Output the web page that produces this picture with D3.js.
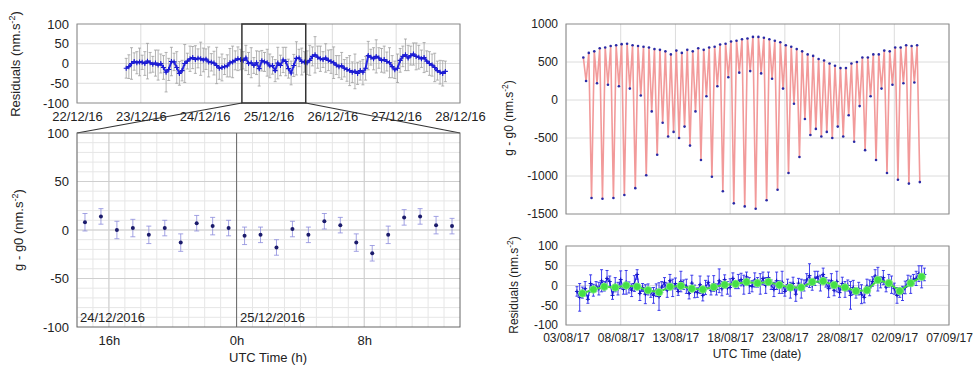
<!DOCTYPE html>
<html>
<head>
<meta charset="utf-8">
<script src="https://cdn.jsdelivr.net/npm/d3@7"></script>
<style>
  body { margin: 0; background: #fff; }
  svg { display: block; font-family: "Liberation Sans", Arial, Helvetica, sans-serif; }
</style>
</head>
<body>
<svg id="fig" width="974" height="368"></svg>
<script>
// ---- data ----
// top left: hourly residuals from 22/12/16 18:30, the zoom window is in the middle
const tlBefore = [-12, -8, 0, 5, 2, 4,
  3, 0, 6, 2, -2, 1,
  -4, 0, -10, -22, -15, 5,
  4, -10, -25, -18, 0, 6,
  12, 15, 10, 13, 12, 9,
  11, 4, 3, 1, -5, -12,
  -10, -8, -6, 2, 4, 8,
  12, 10]
// bottom left: zoom on 24/12/2016 14h -> 25/12/2016 14h (values at hh:30)
const zoomValues = [8, 14, 0, 2, -5, 2, -13, 7, 4, 2, -6, -5,
  -18, 1, -5, 9, 5, -13, -24, -5, 13, 14, 5, 4]
const zoomErr = [9, 8, 9, 9, 9, 8, 9, 8, 9, 8, 9, 8, 8, 8, 8, 8, 8, 9, 8, 9, 8, 8, 9, 8]
const tlAfter = [2, 8, 18, 22, 16, 12,
  10, 14, 8, 5, 2, -4,
  -8, -6, -12, -15, -18, -22,
  -20, -25, -18, -22, -12, 20,
  16, 12, 18, 14, 8, 10,
  5, 2, -8, -16, -12, 8,
  18, 22, 14, 20, 24, 18,
  16, 12, 15, 6, 0, -4,
  -10, -18, -22, -25, -20]
const tlErr = [25, 30, 40, 22, 28, 35, 18, 30, 45, 26, 20, 33,
  38, 24, 30, 50, 28, 36, 22, 40, 30, 26, 48, 20,
  32, 28, 35, 24, 42, 30, 26, 38, 22, 30, 46, 28,
  34, 20, 28, 36, 40, 24, 30, 26, 22, 32, 28, 38,
  20, 30, 44, 26, 24, 34, 30, 22, 28, 40, 26, 32,
  36, 24, 30, 28, 42, 22, 34, 26, 30, 38, 24, 46,
  28, 32, 20, 36, 26, 30, 40, 24, 28, 34, 22, 30,
  38, 26, 44, 28, 24, 32, 30, 36, 20, 28, 42, 26,
  30, 34, 24, 38, 28, 22, 36, 30, 26, 40, 32, 24,
  28, 34, 30, 22, 38, 26, 30, 28, 36, 24, 30, 32,
  26]
const tlTicks = ['2016-12-22', '2016-12-23', '2016-12-24', '2016-12-25', '2016-12-26', '2016-12-27', '2016-12-28']
const zoomTicks = ['2016-12-24T16:00Z', '2016-12-25T00:00Z', '2016-12-25T08:00Z']

// top right: tide extrema every 6 h from 04/08/17 14h, one row per day
// [high, small low, high, big low]
const tideRows = [
  [560, 250, 620, -1290], [640, 220, 680, -1300], [690, 200, 710, -1290],
  [720, 180, 735, -1250], [740, 150, 720, -1160], [710, 60, 700, -990],
  [690, -150, 670, -720], [660, -300, 640, -480], [600, -420, 650, -500],
  [620, -350, 660, -600], [640, -150, 680, -790], [660, 50, 690, -1010],
  [700, 180, 730, -1200], [740, 300, 770, -1360], [780, 360, 800, -1400],
  [810, 380, 830, -1430], [830, 350, 820, -1320], [800, 280, 780, -1180],
  [760, 150, 720, -960], [700, -50, 670, -750], [640, -250, 600, -460],
  [580, -380, 540, -480], [520, -420, 480, -500], [450, -350, 420, -480],
  [420, -200, 480, -550], [500, -80, 560, -660], [560, 50, 600, -790],
  [600, 150, 650, -960], [640, 200, 690, -1050], [690, 220, 720, -1100],
  [710, 230, 720, -1080]]

// bottom right: residuals every 6 h from 04/08/17 0h, one row per day
const resRows = [
  [-15, -30, -18, -8], [-35, 5, -12, -2], [-8, 12, -2, 18], [10, -25, 2, -8],
  [15, -10, 8, -5], [-12, 5, 28, -20], [-5, -22, -10, -18], [-25, -12, -28, -4],
  [8, -12, 12, -6], [5, -15, 10, 2], [-2, -20, 6, -15], [-18, 2, -25, -5],
  [8, -12, 5, -10], [12, -8, 15, -6], [-5, 18, 2, 10], [15, 2, 22, 0],
  [-2, 14, 8, 4], [18, 0, 20, 2], [-10, 12, -4, 8], [-15, 2, -12, 5],
  [-22, 6, -8, 0], [14, 25, 0, 18], [22, 6, 28, 8], [-8, 12, -12, 10],
  [-18, 5, -10, 0], [-25, -5, -20, -8], [-22, -30, -2, -6], [10, 24, 16, 8],
  [20, -4, 12, 2], [-8, -25, -18, -20], [-5, 12, 2, 16], [18, 30, 22, 28]]
const resErr = [12, 35, 14, 18, 10, 22, 15, 12, 16, 28, 12, 20, 14, 10, 18, 16,
  22, 12, 30, 14, 16, 20, 12, 18, 10, 24, 14, 12, 20, 16, 35, 14,
  12, 18, 16, 22, 14, 10, 26, 12, 18, 14, 20, 16, 12, 22, 14, 18,
  16, 12, 20, 14, 30, 18, 12, 16, 22, 14, 10, 18, 16, 24, 12, 20,
  14, 18, 12, 26, 16, 20, 14, 12, 18, 22, 16, 28, 12, 14, 20, 16,
  18, 12, 24, 14, 16, 30, 12, 18, 14, 20, 16, 12, 22, 18, 14, 26,
  12, 16, 20, 14, 35, 18, 12, 16, 24, 14, 18, 20, 12, 16, 30, 14,
  18, 12, 16, 22, 14, 20, 12, 18, 16, 14, 22, 12, 18, 20, 28, 16]
// daily means (green), at noon from 04/08/17
const dailyMean = [-20, -10, -3, -5, 0, -3, -12, -17, -3, -1, -8, -10, -4, 2, 4, 9,
  6, 9, 1, -5, -5, 9, 11, 1, -5, -14, -12, 14, 6, -14, 6, 22]
const dateTicks = ['2017-08-03', '2017-08-08', '2017-08-13', '2017-08-18', '2017-08-23',
  '2017-08-28', '2017-09-02', '2017-09-07']

// ---- setup ----
const HOUR = 3600e3
const FONT = 13        // left panels
const FONT_R = 12      // right panels
const svg = d3.select('#fig')

const tlValues = tlBefore.concat(zoomValues, tlAfter)
const tlStart = Date.parse('2016-12-22T18:30Z')
const tl = tlValues.map((v, i) => ({ t: new Date(tlStart + i * HOUR), v: v, e: tlErr[i] }))
const zStart = Date.parse('2016-12-24T14:30Z')
const zoom = zoomValues.map((v, i) => ({ t: new Date(zStart + i * HOUR), v: v, e: zoomErr[i] }))
const tideStart = Date.parse('2017-08-04T14:00Z')
const tide = tideRows.flat().map((v, i) => ({ t: new Date(tideStart + i * 6 * HOUR), v: v }))
const resStart = Date.parse('2017-08-04T00:00Z')
const res = resRows.flat().map((v, i) => ({ t: new Date(resStart + i * 6 * HOUR), v: v, e: resErr[i] }))
const meanStart = Date.parse('2017-08-04T12:00Z')
const means = dailyMean.map((v, i) => ({ t: new Date(meanStart + i * 24 * HOUR), v: v }))

const xTL = d3.scaleUtc().domain([new Date('2016-12-22T00:00Z'), new Date('2016-12-28T00:00Z')]).range([77, 460])
const yTL = d3.scaleLinear().domain([-100, 100]).range([103, 24])
const zoomFrom = new Date('2016-12-24T14:00Z')
const zoomTo = new Date('2016-12-25T14:00Z')
const xBL = d3.scaleUtc().domain([zoomFrom, zoomTo]).range([77, 460])
const yBL = d3.scaleLinear().domain([-100, 100]).range([327, 133])
const xR = d3.scaleUtc().domain([new Date('2017-08-03T00:00Z'), new Date('2017-09-07T00:00Z')]).range([566, 949])
const yTR = d3.scaleLinear().domain([-1500, 1000]).range([214, 24])
const yBR = d3.scaleLinear().domain([-100, 100]).range([325, 246])

// ---- helpers ----
function hGrid (y, vals, x0, x1, color) {
  svg.append('g').selectAll('line').data(vals).join('line')
    .attr('x1', x0).attr('x2', x1)
    .attr('y1', d => y(d)).attr('y2', d => y(d))
    .attr('stroke', color).attr('stroke-width', 1)
}

function vGrid (x, vals, y0, y1, color) {
  svg.append('g').selectAll('line').data(vals).join('line')
    .attr('x1', d => x(d)).attr('x2', d => x(d))
    .attr('y1', y0).attr('y2', y1)
    .attr('stroke', color).attr('stroke-width', 1)
}

function frame (x, y, color) {
  svg.append('rect')
    .attr('x', x.range()[0]).attr('y', y.range()[1])
    .attr('width', x.range()[1] - x.range()[0])
    .attr('height', y.range()[0] - y.range()[1])
    .attr('fill', 'none').attr('stroke', color || '#8a8a8a').attr('stroke-width', 1)
}

function styleAxis (g, size) {
  g.select('.domain').remove()
  g.attr('font-family', '"Liberation Sans", Arial, Helvetica, sans-serif').attr('font-size', size)
  g.selectAll('text').attr('fill', '#222')
}

// plain numbers, hyphen minus, no thousands separator
const plain = d => String(d)

function leftAxis (y, vals, x0, size) {
  svg.append('g').attr('transform', `translate(${x0},0)`)
    .call(d3.axisLeft(y).tickValues(vals).tickSize(0).tickPadding(8).tickFormat(plain))
    .call(styleAxis, size)
}

function bottomAxis (x, vals, y0, fmt, pad, size) {
  svg.append('g').attr('transform', `translate(0,${y0})`)
    .call(d3.axisBottom(x).tickValues(vals).tickSize(0).tickPadding(pad).tickFormat(fmt))
    .call(styleAxis, size)
}

function yLabel (x, y, main, size) {
  const t = svg.append('text')
    .attr('transform', `translate(${x},${y}) rotate(-90)`)
    .attr('text-anchor', 'middle').attr('font-size', size).attr('fill', '#222')
  t.append('tspan').text(main)
  t.append('tspan').attr('font-size', size * 0.7).attr('dy', -5).text('-2')
  t.append('tspan').attr('font-size', size).attr('dy', 5).text(')')
}

function errorBars (data, x, y, color, cap, width) {
  const g = svg.append('g').attr('stroke', color).attr('stroke-width', width).attr('fill', 'none')
  g.selectAll('path').data(data).join('path')
    .attr('d', d => {
      const px = x(d.t), top = y(d.v + d.e), bot = y(d.v - d.e)
      return `M${px},${top}V${bot}M${px - cap},${top}h${2 * cap}M${px - cap},${bot}h${2 * cap}`
    })
}

function plusMarks (data, x, y, color, s, width) {
  svg.append('g').attr('stroke', color).attr('stroke-width', width)
    .selectAll('path').data(data).join('path')
    .attr('d', d => `M${x(d.t) - s},${y(d.v)}h${2 * s}M${x(d.t)},${y(d.v) - s}v${2 * s}`)
}

const tlTickDates = tlTicks.map(d => new Date(d + 'T00:00Z'))
const zoomTickDates = zoomTicks.map(d => new Date(d))
const dateTickDates = dateTicks.map(d => new Date(d + 'T00:00Z'))
const fmtDay = d3.utcFormat('%d/%m/%y')

// ---- top left: residuals over the whole run ----
vGrid(xTL, tlTickDates, 24, 103, '#dcdcdc')
hGrid(yTL, [-50, 0, 50], 77, 460, '#dcdcdc')
errorBars(tl, xTL, yTL, '#a0a0a0', 1.5, 0.8)
svg.append('path').datum(tl)
  .attr('fill', 'none').attr('stroke', '#2727e6').attr('stroke-width', 2)
  .attr('d', d3.line().x(d => xTL(d.t)).y(d => yTL(d.v)))
plusMarks(tl, xTL, yTL, '#1a1ad0', 2.5, 1.1)
frame(xTL, yTL)
leftAxis(yTL, [-100, -50, 0, 50, 100], 77, FONT)
bottomAxis(xTL, tlTickDates, 103, fmtDay, 9, FONT)
yLabel(20, 64, 'Residuals (nm.s', FONT)

// zoom box and the two lines down to the zoom panel
svg.append('rect')
  .attr('x', xTL(zoomFrom)).attr('y', 24)
  .attr('width', xTL(zoomTo) - xTL(zoomFrom)).attr('height', 79)
  .attr('fill', 'none').attr('stroke', '#333').attr('stroke-width', 1.5)
svg.append('path')
  .attr('d', `M${xTL(zoomFrom)},103L77,133M${xTL(zoomTo)},103L460,133`)
  .attr('stroke', '#333').attr('stroke-width', 1.2).attr('fill', 'none')

// ---- bottom left: one day zoom ----
const hours = d3.utcHour.range(zoomFrom, zoomTo)
vGrid(xBL, hours, 133, 327, '#e6e6e6')
hGrid(yBL, d3.range(-90, 100, 10), 77, 460, '#e6e6e6')
vGrid(xBL, zoomTickDates, 133, 327, '#cfcfcf')
hGrid(yBL, [-50, 0, 50], 77, 460, '#cfcfcf')
vGrid(xBL, [new Date('2016-12-25T00:00Z')], 133, 327, '#6a6a6a')
errorBars(zoom, xBL, yBL, '#8c8cdc', 2.5, 0.8)
svg.append('g').selectAll('circle').data(zoom).join('circle')
  .attr('cx', d => xBL(d.t)).attr('cy', d => yBL(d.v))
  .attr('r', 2).attr('fill', '#1b1b6b')
frame(xBL, yBL, '#666')
leftAxis(yBL, [-100, -50, 0, 50, 100], 77, FONT)
bottomAxis(xBL, zoomTickDates, 327, d3.utcFormat('%-Hh'), 9, FONT)
yLabel(23, 230, 'g - g0 (nm.s', FONT)
svg.append('text').attr('x', 80).attr('y', 322).attr('font-size', FONT).attr('fill', '#222').text('24/12/2016')
svg.append('text').attr('x', 240).attr('y', 322).attr('font-size', FONT).attr('fill', '#222').text('25/12/2016')
svg.append('text').attr('x', 268).attr('y', 362).attr('text-anchor', 'middle')
  .attr('font-size', FONT).attr('fill', '#222').text('UTC Time (h)')

// ---- top right: tide signal ----
vGrid(xR, dateTickDates, 24, 214, '#dcdcdc')
hGrid(yTR, [-1000, -500, 0, 500], 566, 949, '#dcdcdc')
svg.append('path').datum(tide)
  .attr('fill', 'none').attr('stroke', '#f29a9a').attr('stroke-width', 1.6)
  .attr('d', d3.line().x(d => xR(d.t)).y(d => yTR(d.v)))
svg.append('g').selectAll('circle').data(tide).join('circle')
  .attr('cx', d => xR(d.t)).attr('cy', d => yTR(d.v))
  .attr('r', 1.3).attr('fill', '#2a2aa6')
frame(xR, yTR)
leftAxis(yTR, [-1500, -1000, -500, 0, 500, 1000], 566, FONT_R)
yLabel(513, 118, 'g - g0 (nm.s', FONT_R)

// ---- bottom right: residuals and daily means ----
vGrid(xR, dateTickDates, 246, 325, '#dcdcdc')
hGrid(yBR, [-50, 0, 50], 566, 949, '#dcdcdc')
errorBars(res, xR, yBR, '#2b2bea', 1.5, 0.9)
svg.append('path').datum(res)
  .attr('fill', 'none').attr('stroke', '#1f1fe0').attr('stroke-width', 1.2)
  .attr('d', d3.line().x(d => xR(d.t)).y(d => yBR(d.v)))
plusMarks(res, xR, yBR, '#1414c8', 2, 1)
svg.append('path').datum(means)
  .attr('fill', 'none').attr('stroke', '#3fd83f').attr('stroke-width', 2)
  .attr('d', d3.line().x(d => xR(d.t)).y(d => yBR(d.v)))
svg.append('g').selectAll('circle').data(means).join('circle')
  .attr('cx', d => xR(d.t)).attr('cy', d => yBR(d.v))
  .attr('r', 3.8).attr('fill', '#46e046').attr('stroke', '#8cf08c').attr('stroke-width', 0.8)
frame(xR, yBR)
leftAxis(yBR, [-100, -50, 0, 50, 100], 566, FONT_R)
bottomAxis(xR, dateTickDates, 325, fmtDay, 8, FONT_R)
yLabel(518, 285, 'Residuals (nm.s', FONT_R)
svg.append('text').attr('x', 757).attr('y', 358).attr('text-anchor', 'middle')
  .attr('font-size', FONT_R).attr('fill', '#222').text('UTC Time (date)')
</script>
</body>
</html>
